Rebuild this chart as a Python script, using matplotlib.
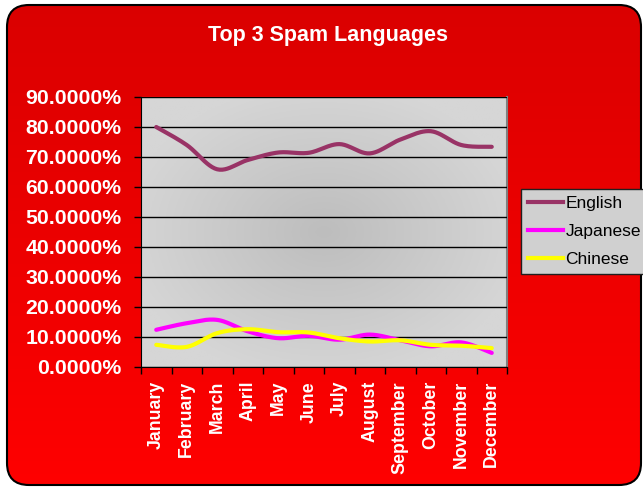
import numpy as np
import matplotlib
matplotlib.use("Agg")
import matplotlib.pyplot as plt
from matplotlib.patches import FancyBboxPatch
from matplotlib.colors import LinearSegmentedColormap
from matplotlib.lines import Line2D

months = ["January", "February", "March", "April", "May", "June",
          "July", "August", "September", "October", "November", "December"]
english = [80.0, 74.0, 65.9, 69.0, 71.5, 71.4, 74.3, 71.2, 75.8, 78.6, 74.0, 73.4]
japanese = [12.4, 14.6, 15.7, 11.9, 9.6, 10.4, 9.1, 10.8, 8.9, 6.9, 8.2, 4.7]
chinese = [7.4, 6.7, 11.3, 12.6, 11.6, 11.5, 9.6, 8.5, 8.9, 7.4, 7.1, 6.3]

series = [("English", english, "#993366"),
          ("Japanese", japanese, "#FF00FF"),
          ("Chinese", chinese, "#FFFF00")]

plt.rcParams['font.family'] = ['Liberation Sans', 'DejaVu Sans']

W, H = 643, 488
fig = plt.figure(figsize=(W / 100, H / 100), dpi=100)
fig.patch.set_facecolor("white")

# Chart background: rounded frame with a vertical red gradient
bg = fig.add_axes([0, 0, 1, 1])
bg.set_xlim(0, W)
bg.set_ylim(0, H)
bg.axis("off")
frame = FancyBboxPatch((7, 3), 634, 480, boxstyle="round,pad=0,rounding_size=22",
                       facecolor="none", edgecolor="black", linewidth=1.5, zorder=2)
bg.add_patch(frame)
reds = LinearSegmentedColormap.from_list("reds", ["#FF0000", "#DA0000"])
grad = np.linspace(0, 1, 256).reshape(-1, 1)
im = bg.imshow(grad, cmap=reds, extent=[0, W, 0, H], origin="lower",
               aspect="auto", zorder=1)
im.set_clip_path(frame)


def smooth(xs, ys, steps=24):
    """Catmull-Rom curve through the points (Excel-style smoothed line)."""
    xs = np.asarray(xs, float)
    ys = np.asarray(ys, float)
    px = np.concatenate([[xs[0]], xs, [xs[-1]]])
    py = np.concatenate([[ys[0]], ys, [ys[-1]]])
    out_x, out_y = [], []
    t = np.linspace(0, 1, steps, endpoint=False)
    for i in range(1, len(px) - 2):
        for arr, out in ((px, out_x), (py, out_y)):
            p0, p1, p2, p3 = arr[i - 1], arr[i], arr[i + 1], arr[i + 2]
            out.extend(0.5 * ((2 * p1) + (-p0 + p2) * t
                              + (2 * p0 - 5 * p1 + 4 * p2 - p3) * t ** 2
                              + (-p0 + 3 * p1 - 3 * p2 + p3) * t ** 3))
    out_x.append(xs[-1])
    out_y.append(ys[-1])
    return np.array(out_x), np.array(out_y)


ax = fig.add_axes([141 / W, (H - 367) / H, 366 / W, 270 / H])
x = np.arange(len(months))
ax.set_xlim(-0.5, len(months) - 0.5)
ax.set_ylim(0, 90)

# Plot area fill: gray, darker toward the centre
gx, gy = np.meshgrid(np.linspace(-1, 1, 200), np.linspace(-1, 1, 200))
d = np.clip(np.sqrt(gx ** 2 + gy ** 2) / 1.1, 0, 1)
ax.imshow(d, cmap=LinearSegmentedColormap.from_list("g", ["#BDBDBD", "#D6D6D6"]),
          extent=[-0.5, len(months) - 0.5, 0, 90], origin="lower",
          aspect="auto", zorder=0, vmin=0, vmax=1)

ax.set_yticks(np.arange(0, 91, 10))
ax.set_yticklabels([f"{v:.4f}%" for v in np.arange(0, 91, 10)])
ax.yaxis.grid(True, color="black", linewidth=1)
ax.set_axisbelow(False)
for gl in ax.get_ygridlines():
    gl.set_zorder(1)

ax.set_xticks(np.arange(-0.5, len(months), 1))
ax.set_xticklabels([])
ax.set_xticks(x, minor=True)
ax.set_xticklabels(months, minor=True, rotation=90, va="top", ha="center")

ax.tick_params(axis="y", direction="out", length=5, width=1, pad=9,
               labelsize=15.3, labelcolor="white", color="black")
ax.tick_params(axis="x", which="major", direction="out", length=5, width=1,
               color="black")
ax.tick_params(axis="x", which="minor", length=0, pad=10,
               labelsize=12.8, labelcolor="white")
for lbl in ax.get_yticklabels() + ax.get_xticklabels(minor=True):
    lbl.set_fontweight("bold")

ax.spines["left"].set_color("black")
ax.spines["bottom"].set_color("black")
ax.spines["top"].set_color("#808080")
ax.spines["right"].set_color("#808080")
ax.spines["right"].set_linewidth(1.5)

handles = []
for name, vals, col in series:
    sx, sy = smooth(x, vals)
    ax.plot(sx, sy, color=col, linewidth=3, solid_capstyle="round", zorder=3)
    handles.append(Line2D([], [], color=col, linewidth=3, label=name))

fig.text(328 / W, 1 - 35 / H, "Top 3 Spam Languages", color="white",
         fontsize=15.5, fontweight="bold", ha="center", va="center")

leg = fig.legend(handles=handles, loc="upper left",
                 bbox_to_anchor=(521 / W, 1 - 189 / H),
                 bbox_transform=fig.transFigure, fontsize=12.5,
                 frameon=True, fancybox=False, facecolor="#D0D0D0",
                 edgecolor="#202020", framealpha=1, handlelength=2.0,
                 handletextpad=0.15, labelspacing=0.73, borderpad=0.4,
                 borderaxespad=0)
leg.get_frame().set_linewidth(1)

fig.savefig("out.png", dpi=100)
